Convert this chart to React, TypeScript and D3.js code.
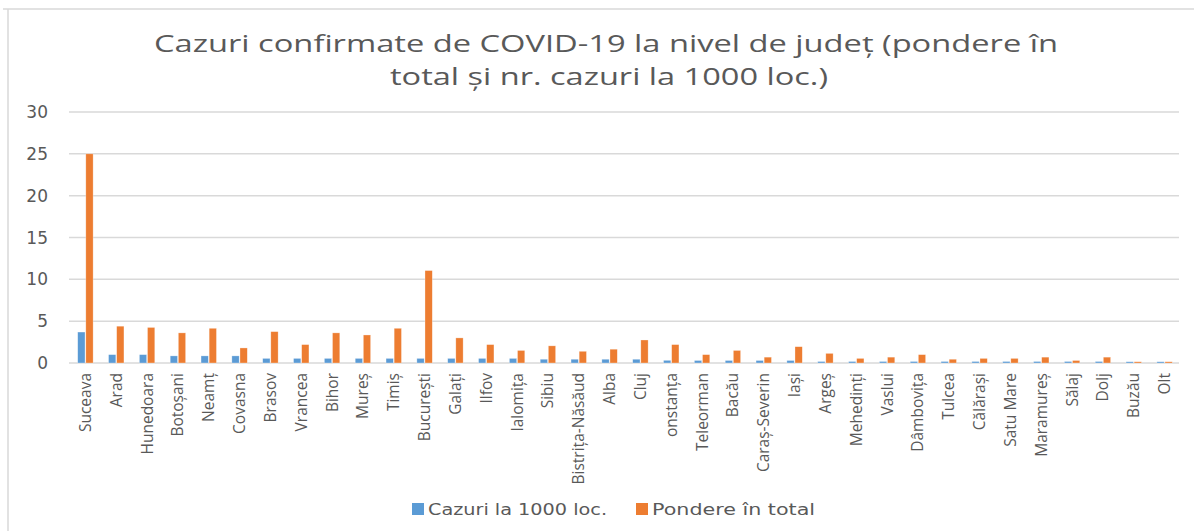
import * as d3 from 'd3';

// county names as printed on the axis
const COUNTIES = [
  'Suceava', 'Arad', 'Hunedoara', 'Botoșani', 'Neamț', 'Covasna', 'Brasov', 'Vrancea',
  'Bihor', 'Mureș', 'Timiș', 'București', 'Galați', 'Ilfov', 'Ialomița', 'Sibiu',
  'Bistrița-Năsăud', 'Alba', 'Cluj', 'onstanța', 'Teleorman', 'Bacău', 'Caraș-Severin',
  'Iași', 'Argeș', 'Mehedinți', 'Vaslui', 'Dâmbovița', 'Tulcea', 'Călărași', 'Satu Mare',
  'Maramureș', 'Sălaj', 'Dolj', 'Buzău', 'Olt',
];

// Cazuri la 1000 loc.
const CAZURI = [
  3.7, 1.0, 1.0, 0.85, 0.85, 0.85, 0.55, 0.55, 0.55, 0.55, 0.55, 0.55, 0.55, 0.55, 0.55,
  0.45, 0.45, 0.45, 0.45, 0.32, 0.3, 0.3, 0.3, 0.3, 0.18, 0.18, 0.18, 0.18, 0.18, 0.18,
  0.18, 0.18, 0.18, 0.18, 0.15, 0.15,
];

// Pondere în total
const PONDERE = [
  25, 4.4, 4.25, 3.6, 4.15, 1.8, 3.75, 2.2, 3.6, 3.35, 4.15, 11.05, 3.0, 2.2, 1.5, 2.05,
  1.4, 1.65, 2.75, 2.2, 1.0, 1.5, 0.7, 1.95, 1.15, 0.55, 0.7, 1.0, 0.45, 0.55, 0.55, 0.7,
  0.3, 0.7, 0.15, 0.15,
];

const Y_TICKS = [0, 5, 10, 15, 20, 25, 30];
const SERIES = ['Cazuri la 1000 loc.', 'Pondere în total'];
const VALUES = [CAZURI, PONDERE];
const COLORS = ['#5B9BD5', '#ED7D31'];

const W = 1194;
const H = 531;
const TEXT = '#595959';
const GRID = '#D9D9D9';

export default function App() {
  const x = d3.scaleBand<string>().domain(COUNTIES).range([70, 1180]).paddingInner(0.5).paddingOuter(0.25);
  const x1 = d3.scaleBand<string>().domain(SERIES).range([0, x.bandwidth()]).paddingInner(0.1);
  const y = d3.scaleLinear().domain([0, 30]).range([363, 112]);

  return (
    <svg width={W} height={H} style={{ position: 'absolute', left: 0, top: 0, background: '#fff' }}>
      <rect width={W} height={H} fill="#fff" />
      {/* chart frame (only left and top edges are in view) */}
      <line x1={8} x2={8} y1={9} y2={H} stroke={GRID} strokeWidth={1.5} />
      <line x1={3} x2={W} y1={9} y2={9} stroke={GRID} strokeWidth={1.5} />

      <g fontFamily="'Open Sans', sans-serif" fill={TEXT} textAnchor="middle" fontSize={24}>
        <text x={606} y={52} textLength={904} lengthAdjust="spacingAndGlyphs">
          Cazuri confirmate de COVID-19 la nivel de județ (pondere în
        </text>
        <text x={609} y={85} textLength={438} lengthAdjust="spacingAndGlyphs">
          total și nr. cazuri la 1000 loc.)
        </text>
      </g>

      {/* gridlines + y labels */}
      {Y_TICKS.map(t => (
        <g key={t}>
          <line x1={69} x2={1179} y1={y(t)} y2={y(t)} stroke={GRID} strokeWidth={1.5} />
          <text
            x={48}
            y={y(t)}
            dy="0.36em"
            textAnchor="end"
            fontFamily="'DejaVu Sans', sans-serif"
            fontSize={17}
            fill={TEXT}
          >
            {t}
          </text>
        </g>
      ))}

      {/* bars */}
      {COUNTIES.map((c, i) => (
        <g key={c} transform={`translate(${x(c)},0)`}>
          {SERIES.map((s, k) => {
            const v = VALUES[k][i];
            return (
              <rect
                key={s}
                x={x1(s)}
                y={y(v)}
                width={x1.bandwidth()}
                height={y(0) - y(v)}
                fill={COLORS[k]}
                stroke="#fff"
                strokeOpacity={0.5}
                strokeWidth={0.6}
              />
            );
          })}
        </g>
      ))}

      {/* category labels */}
      {COUNTIES.map(c => {
        const cx = (x(c) ?? 0) + x.bandwidth() / 2;
        return (
          <text
            key={c}
            transform={`translate(${cx},373) rotate(-90)`}
            textAnchor="end"
            dy="0.35em"
            fontFamily="'Open Sans', sans-serif"
            fontSize={15.5}
            fill={TEXT}
          >
            {c}
          </text>
        );
      })}

      {/* legend */}
      {SERIES.map((s, k) => {
        const lx = k === 0 ? 412 : 636;
        const len = k === 0 ? 179 : 163;
        return (
          <g key={s} transform={`translate(${lx},503)`}>
            <rect width={12} height={12} fill={COLORS[k]} />
            <text
              x={16}
              y={12}
              fontFamily="'DejaVu Sans', sans-serif"
              fontSize={16}
              fill={TEXT}
              textLength={len}
              lengthAdjust="spacingAndGlyphs"
            >
              {s}
            </text>
          </g>
        );
      })}
    </svg>
  );
}
